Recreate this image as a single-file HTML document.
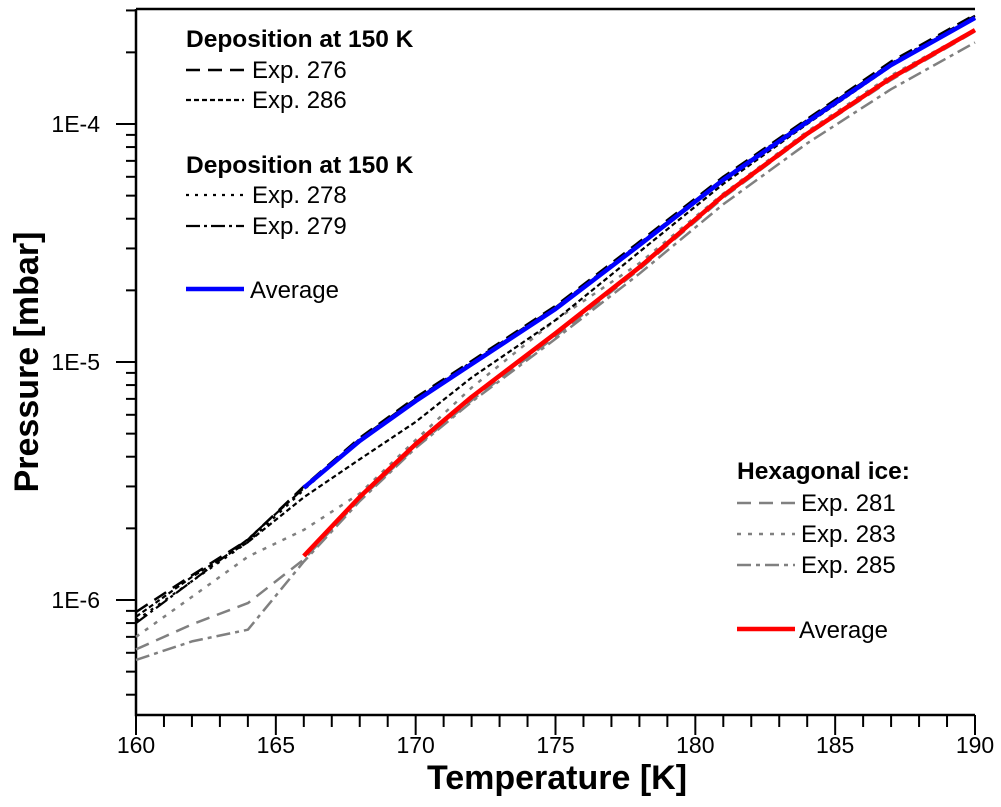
<!DOCTYPE html>
<html><head><meta charset="utf-8"><style>
body{margin:0;background:#fff;}
svg text{font-family:"Liberation Sans",Arial,sans-serif;}
</style></head><body>
<svg id="chart" width="1001" height="802" xmlns="http://www.w3.org/2000/svg">
<g id="axes"></g>
<g id="series"></g>
<g id="legend"></g>
</svg>
<script>
const temps = [160,162,164,166,168,170,172,175,178,181,184,187,190];
const avgBlueT = [166,168,170,172,175,178,181,184,187,190];
const avgBlue = [2.96e-6,4.66e-6,6.86e-6,9.8e-6,1.67e-5,3.1e-5,5.82e-5,1.02e-4,1.77e-4,2.79e-4];
const avgRed = [1.53e-6,2.71e-6,4.52e-6,7.13e-6,1.32e-5,2.5e-5,5.0e-5,9.1e-5,1.56e-4,2.48e-4];
const exp276 = [8.9e-7,1.27e-6,1.79e-6,3.0e-6,4.8e-6,7.1e-6,1.01e-5,1.72e-5,3.2e-5,6.0e-5,1.05e-4,1.83e-4,2.88e-4];
const exp286 = [8.5e-7,1.25e-6,1.75e-6,2.7e-6,3.9e-6,5.6e-6,8.6e-6,1.5e-5,2.9e-5,5.6e-5,1.0e-4,1.75e-4,2.8e-4];
const exp278 = [8.2e-7,1.2e-6,1.75e-6,2.9e-6,4.7e-6,6.95e-6,9.9e-6,1.69e-5,3.1e-5,5.85e-5,1.02e-4,1.78e-4,2.8e-4];
const exp279 = [8.0e-7,1.2e-6,1.8e-6,2.95e-6,4.75e-6,7.0e-6,1.0e-5,1.7e-5,3.15e-5,5.9e-5,1.04e-4,1.8e-4,2.85e-4];
const exp281 = [6.2e-7,7.9e-7,9.7e-7,1.48e-6,2.65e-6,4.4e-6,6.9e-6,1.28e-5,2.45e-5,4.9e-5,9.0e-5,1.53e-4,2.45e-4];
const exp283 = [7.0e-7,1.03e-6,1.52e-6,1.97e-6,2.8e-6,4.7e-6,7.8e-6,1.5e-5,2.6e-5,5.1e-5,9.3e-5,1.6e-4,2.5e-4];
const exp285 = [5.6e-7,6.7e-7,7.5e-7,1.45e-6,2.6e-6,4.35e-6,6.8e-6,1.25e-5,2.35e-5,4.6e-5,8.3e-5,1.4e-4,2.2e-4];
const xTicks = [160,165,170,175,180,185,190];
const yTickVals = [1e-6,1e-5,1e-4];
const yTickLabels = ["1E-6","1E-5","1E-4"];

const NS="http://www.w3.org/2000/svg";
const X0=136,X1=975,Y0=715,Ytop=9;
const xs = t => X0 + (t-160)*(X1-X0)/30;
const ys = p => 124 - (Math.log10(p)+4)*238;
function mk(tag, attrs, parent){const e=document.createElementNS(NS,tag);for(const k in attrs)e.setAttribute(k,attrs[k]);parent.appendChild(e);return e;}
const axes=document.getElementById('axes'), ser=document.getElementById('series'), leg=document.getElementById('legend');

let a=mk('path',{d:`M${X0},${Ytop} H${X1} M${X0},${Ytop} V${Y0} H${X1}`,stroke:'#000','stroke-width':2.5,fill:'none'},axes);


for(let t=160;t<=190;t++){
  const major = t%5===0;
  const l=mk('line',{x1:xs(t),x2:xs(t),y1:Y0,y2:Y0+(major?20:12),stroke:'#000','stroke-width':2},axes);
  
  
}
xTicks.forEach(t=>{
  const tx=mk('text',{x:xs(t),y:753,'font-size':23,'text-anchor':'middle'},axes);
  tx.textContent=t;
  
  
});
for(let e=-7;e<=-4;e++){
  for(let m=1;m<=9;m++){
    const p=m*Math.pow(10,e); const y=ys(p);
    if(y<Ytop-1||y>Y0+1) continue;
    const l=mk('line',{x1:X0,x2:X0-(m===1?20:10),y1:y,y2:y,stroke:'#000','stroke-width':2},axes);
    
    
  }
}
yTickVals.forEach((v,i)=>{
  const tx=mk('text',{x:100,y:ys(v)+8,'font-size':23,'text-anchor':'end'},axes);
  tx.textContent=yTickLabels[i];
  
  
});
let xt=mk('text',{x:557,y:789,'font-size':34,'font-weight':'bold','text-anchor':'middle'},axes);
xt.textContent='Temperature [K]';


let yt=mk('text',{x:0,y:0,'font-size':34,'font-weight':'bold','text-anchor':'middle',transform:'translate(38,362) rotate(-90)'},axes);
yt.textContent='Pressure [mbar]';



function line(T,P,color,w,dash,name){
  const d=T.map((t,i)=>(i?'L':'M')+xs(t).toFixed(1)+','+ys(P[i]).toFixed(1)).join(' ');
  const p=mk('path',{d:d,stroke:color,'stroke-width':w,fill:'none','stroke-dasharray':dash||'none','stroke-linejoin':'round'},ser);
  
  
}
const G='#808080';
line(temps,exp281,G,2.5,'14 8','line-exp-281');
line(temps,exp283,G,2.5,'4 7','line-exp-283');
line(temps,exp285,G,2.5,'14 5 4 5','line-exp-285');
line(temps,exp276,'#000',2.5,'14 8','line-exp-276');
line(temps,exp286,'#000',2.2,'5 3','line-exp-286');
line(temps,exp278,'#000',2.2,'3 6','line-exp-278');
line(temps,exp279,'#000',2.2,'14 4 3 4','line-exp-279');
line(avgBlueT,avgBlue,'#0000ff',4.5,null,'line-average-150k');
line(avgBlueT,avgRed,'#ff0000',4.5,null,'line-average-hexagonal');

function ltext(x,y,s,bold,name){
  const t=mk('text',{x:x,y:y,'font-size':bold?24.5:24,'font-weight':bold?'bold':'normal'},leg);
  t.textContent=s;
  
  
}
function lsample(x,y,color,w,dash,name){
  const l=mk('line',{x1:x,x2:x+58,y1:y,y2:y,stroke:color,'stroke-width':w,'stroke-dasharray':dash||'none'},leg);
  
  
}
ltext(186,47,'Deposition at 150 K',true,'legend-title-1');
lsample(186,70,'#000',2.5,'14 8','legend-swatch-276'); ltext(252,78,'Exp. 276',false,'legend-label-276');
lsample(186,100,'#000',2.2,'5 3','legend-swatch-286'); ltext(252,108,'Exp. 286',false,'legend-label-286');
ltext(186,173,'Deposition at 150 K',true,'legend-title-2');
lsample(186,195,'#000',2.2,'3 6','legend-swatch-278'); ltext(252,203,'Exp. 278',false,'legend-label-278');
lsample(186,226,'#000',2.2,'14 4 3 4','legend-swatch-279'); ltext(252,234,'Exp. 279',false,'legend-label-279');
lsample(186,289,'#0000ff',4.5,null,'legend-swatch-avg-blue'); ltext(250,298,'Average',false,'legend-label-avg-blue');
ltext(737,479,'Hexagonal ice:',true,'legend-title-hex');
lsample(737,503,G,2.5,'14 8','legend-swatch-281'); ltext(801,511,'Exp. 281',false,'legend-label-281');
lsample(737,534,G,2.5,'4 7','legend-swatch-283'); ltext(801,542,'Exp. 283',false,'legend-label-283');
lsample(737,565,G,2.5,'14 5 4 5','legend-swatch-285'); ltext(801,573,'Exp. 285',false,'legend-label-285');
lsample(737,629,'#ff0000',4.5,null,'legend-swatch-avg-red'); ltext(799,638,'Average',false,'legend-label-avg-red');
</script>
</body></html>
